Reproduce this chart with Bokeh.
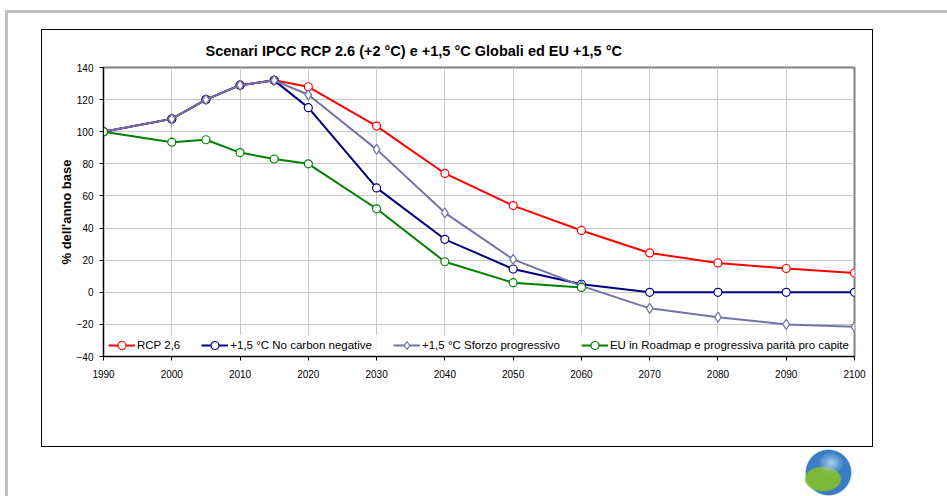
from bokeh.plotting import figure
from bokeh.models import Range1d, Legend, LegendItem, FixedTicker
from bokeh.embed import file_html
from bokeh.resources import INLINE

# ---- data ----
years = [1990, 2000, 2005, 2010, 2015, 2020, 2030, 2040, 2050, 2060, 2070, 2080, 2090, 2100]
rcp26 = [100, 108, 120, 129, 132, 128, 103.5, 74, 54, 38.5, 24.5, 18.3, 14.8, 12]
no_carbon_negative = [100, 108, 120, 129, 132, 115, 65, 33, 14.5, 5, 0, 0, 0, 0]
sforzo_progressivo = [100, 108, 120, 129, 132, 123, 89, 49.5, 20.5, 4, -10, -15.5, -20, -21.5]
eu_years = [1990, 2000, 2005, 2010, 2015, 2020, 2030, 2040, 2050, 2060]
eu_roadmap = [100, 93.5, 95, 87, 83, 80, 52, 19, 6, 3]

x_ticks = list(range(1990, 2101, 10))
y_ticks = list(range(-40, 141, 20))

title_text = "Scenari IPCC RCP 2.6 (+2 °C) e +1,5 °C Globali ed EU +1,5 °C"
y_label = "% dell'anno base"
series_labels = ["RCP 2,6", "+1,5 °C No carbon negative",
                 "+1,5 °C Sforzo progressivo",
                 "EU in Roadmap e progressiva parità pro capite"]

FONT = "Liberation Sans"
W, H = 947, 496

p = figure(width=W, height=H,
           x_range=Range1d(1990, 2100), y_range=Range1d(-40, 140),
           output_backend="svg", toolbar_location=None,
           min_border_left=103, min_border_right=93,
           min_border_top=67, min_border_bottom=140)

# page decorations (grey frame, chart box, logo shapes) as CSS background layers
layers = [
    # (image, x, y, w, h)
    ("radial-gradient(closest-side, #A9D0F2 0%, rgba(169,208,242,0) 100%)", 818, 452, 26, 22),
    ("radial-gradient(closest-side, #7DB83A 88%, rgba(125,184,58,0) 100%)", 804, 466, 38, 26),
    ("radial-gradient(closest-side, #3B7DC4 94%, rgba(59,125,196,0) 100%)", 805, 449, 47, 47),
    ("linear-gradient(#C0C0C0, #C0C0C0)", 5, 10, 942, 3),
    ("linear-gradient(#C0C0C0, #C0C0C0)", 5, 10, 3, 486),
    ("linear-gradient(#000000, #000000)", 41, 29, 832, 1),
    ("linear-gradient(#000000, #000000)", 41, 446, 832, 1),
    ("linear-gradient(#000000, #000000)", 41, 29, 1, 418),
    ("linear-gradient(#000000, #000000)", 872, 29, 1, 418),
]
p.styles = {
    "background-color": "white",
    "background-image": ", ".join(l[0] for l in layers),
    "background-position": ", ".join(f"{l[1]}px {l[2]}px" for l in layers),
    "background-size": ", ".join(f"{l[3]}px {l[4]}px" for l in layers),
    "background-repeat": "no-repeat",
}

p.background_fill_color = "white"
p.border_fill_alpha = 0
p.outline_line_color = "#808080"
p.outline_line_width = 2

# title
p.title.text = title_text
p.title.text_font = FONT
p.title.text_font_size = "14.5px"
p.title.text_font_style = "bold"
p.title.text_color = "black"
p.title.align = "left"
p.title.offset = 102
p.title.standoff = 18

for ax, ticks in ((p.xaxis, x_ticks), (p.yaxis, y_ticks)):
    ax.ticker = FixedTicker(ticks=ticks)
    ax.axis_line_color = "black"
    ax.axis_line_width = 1
    ax.major_tick_line_color = "black"
    ax.major_tick_out = 4
    ax.major_tick_in = 0
    ax.minor_tick_line_color = None
    ax.major_label_text_font = FONT
    ax.major_label_text_font_size = "10px"
    ax.major_label_text_color = "black"
p.xaxis.major_label_standoff = 9
p.yaxis.major_label_standoff = 6

p.yaxis.axis_label = y_label
p.yaxis.axis_label_text_font = FONT
p.yaxis.axis_label_text_font_size = "13px"
p.yaxis.axis_label_text_font_style = "bold"
p.yaxis.axis_label_text_color = "black"
p.yaxis.axis_label_standoff = 0

p.xgrid.grid_line_color = "#C8C8C8"
p.ygrid.grid_line_color = "#C8C8C8"

colors = ["#FF0000", "#000080", "#7373A8", "#008000"]
xs_all = [years, years, years, eu_years]
ys_all = [rcp26, no_carbon_negative, sforzo_progressivo, eu_roadmap]
markers = ["circle", "circle", "diamond", "circle"]
msizes = [8, 8, 10, 8]

items = []
for lab, c, xs, ys, mk, ms in zip(series_labels, colors, xs_all, ys_all, markers, msizes):
    l = p.line(xs, ys, line_color=c, line_width=2)
    s = p.scatter(xs, ys, marker=mk, size=ms, fill_color="white",
                  line_color=c, line_width=1.2)
    items.append(LegendItem(label=lab, renderers=[l, s]))

legend = Legend(items=items, orientation="horizontal", location=(5, 1),
                padding=0, margin=0, spacing=21, glyph_width=27, glyph_height=20,
                label_height=20, label_standoff=2, label_text_font=FONT,
                label_text_font_size="11.5px", label_text_color="black",
                border_line_color=None, background_fill_color="white",
                background_fill_alpha=0.85)
p.add_layout(legend)

open("out.html", "w").write(file_html(p, INLINE))
